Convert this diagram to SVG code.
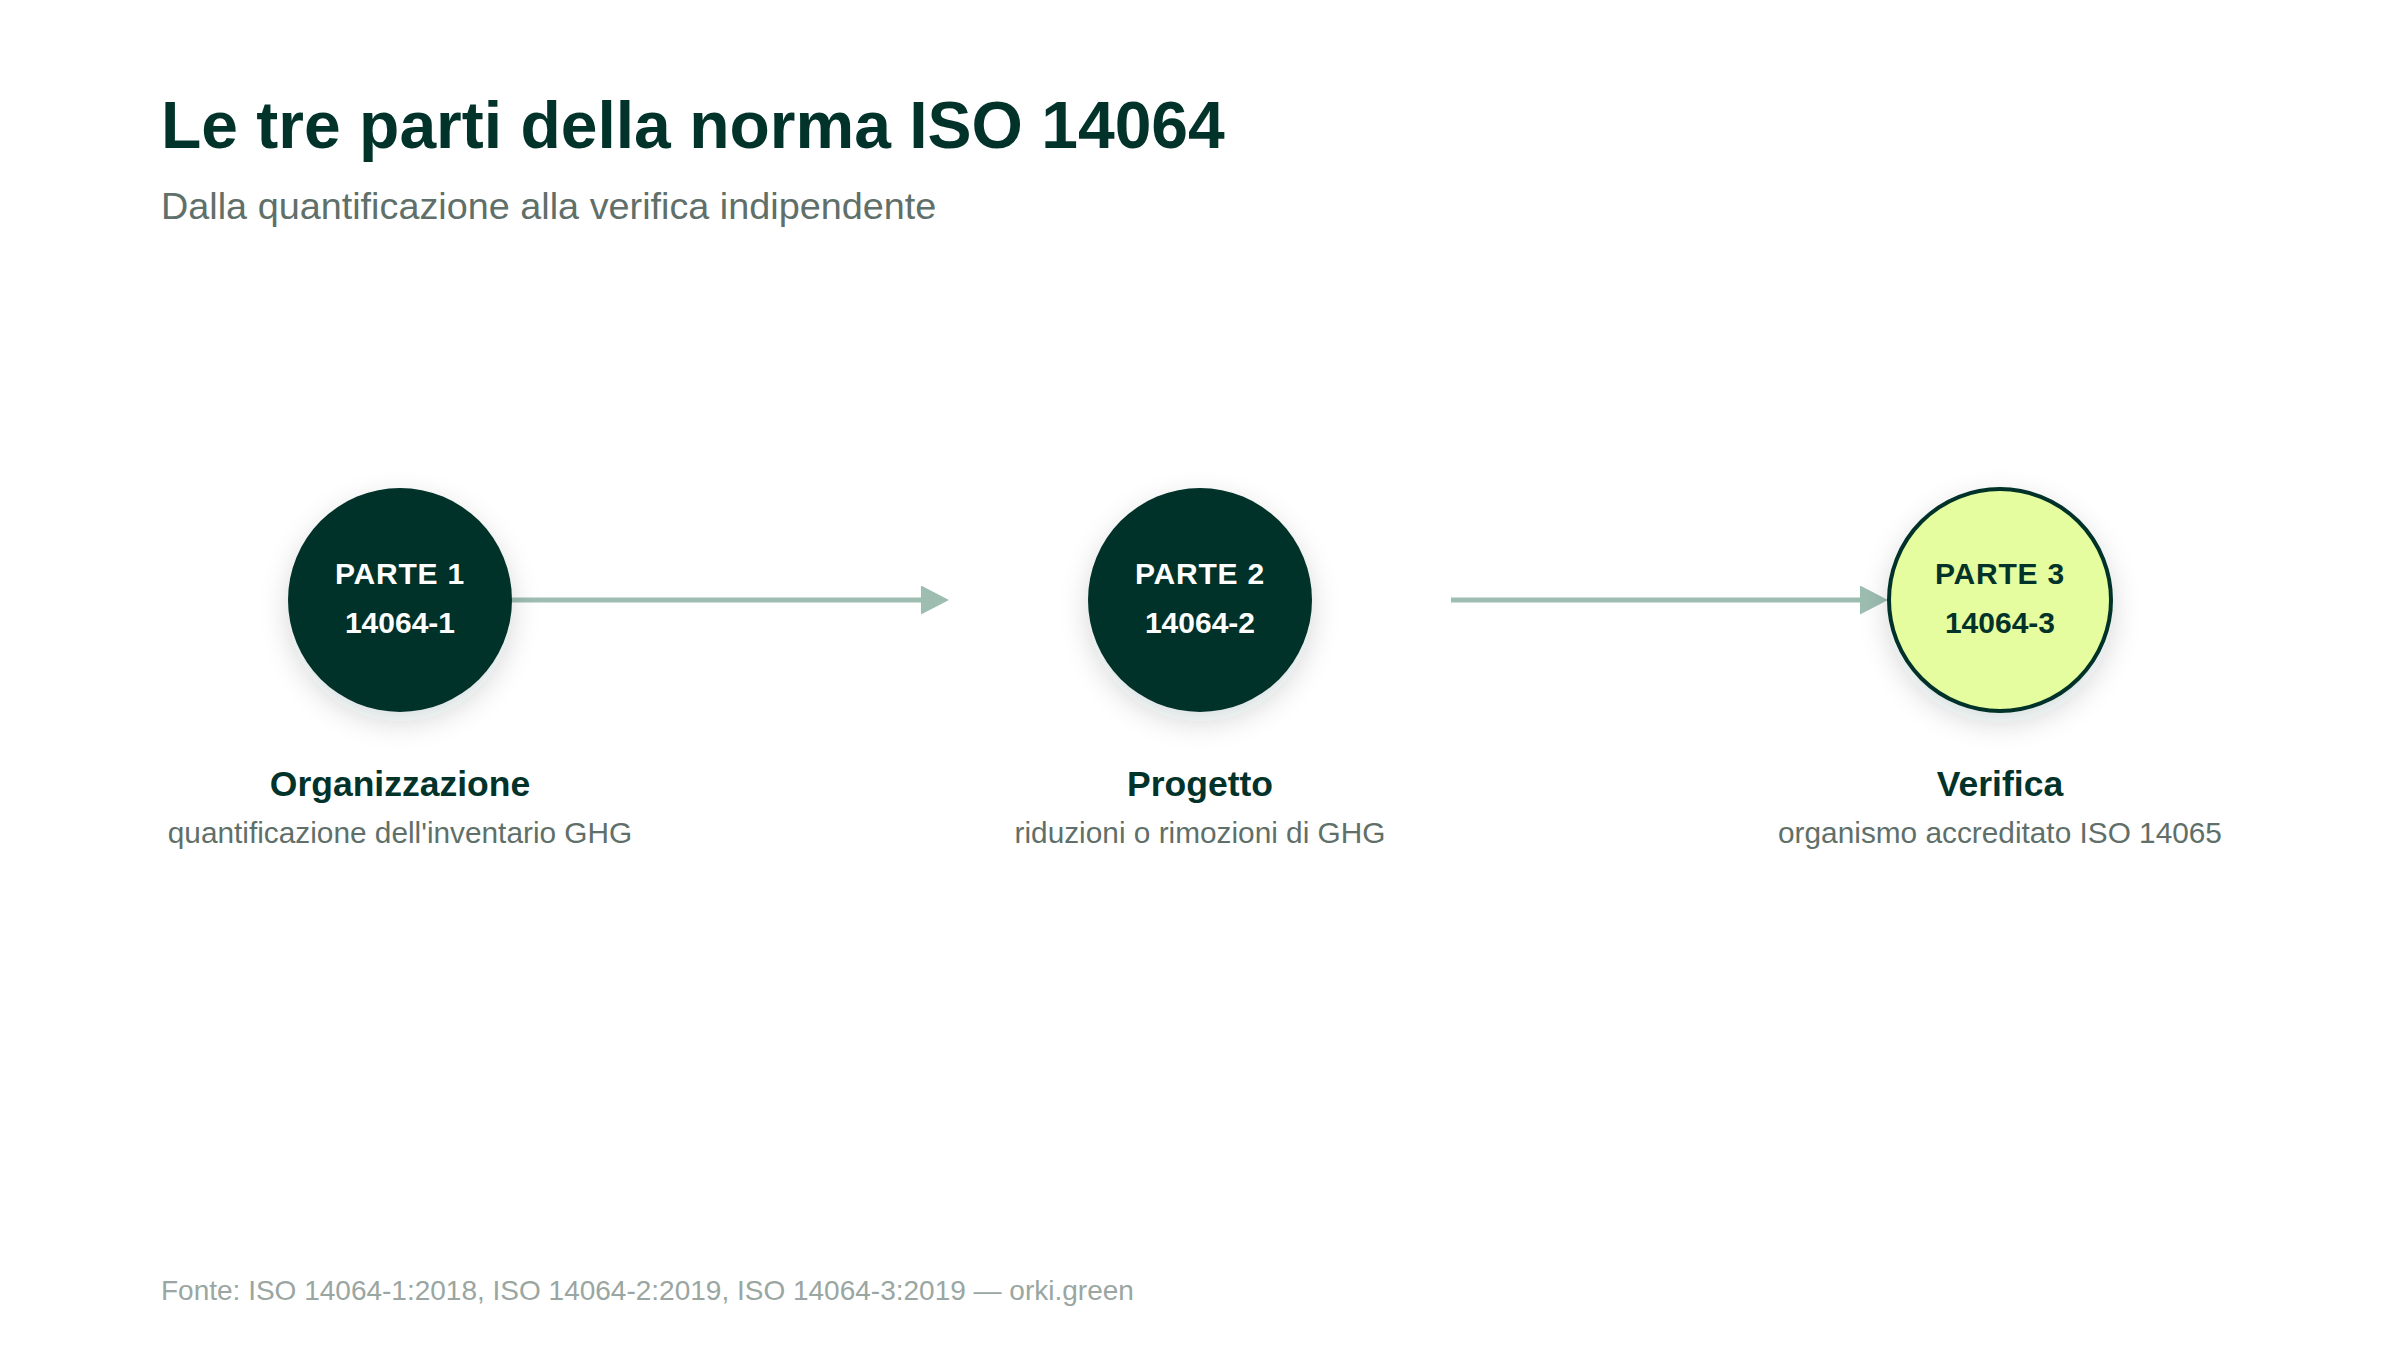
<svg xmlns="http://www.w3.org/2000/svg" width="2400" height="1350" viewBox="0 0 2400 1350">
  <style>
    .t { font-family: "Liberation Sans", Arial, sans-serif; }
    .title { font-size: 66px; font-weight: 700; fill: #02332a; }
    .subtitle { font-size: 37.8px; fill: #5f6f69; }
    .part { font-size: 30px; font-weight: 700; text-anchor: middle; letter-spacing: 0.8px; }
    .code { font-size: 30px; font-weight: 700; text-anchor: middle; }
    .light { fill: #ffffff; }
    .dark { fill: #02332a; }
    .label { font-size: 35.5px; font-weight: 700; fill: #02332a; text-anchor: middle; }
    .desc { font-size: 29.8px; fill: #5f6f69; text-anchor: middle; }
    .footer { font-size: 28px; fill: #9aa6a1; }
    .conn { stroke: #9dbdb1; stroke-width: 5; fill: none; }
    .disc { fill: #02332a; }
    .disc-hl { fill: #e6fd9f; stroke: #02332a; stroke-width: 4; }
  </style>
  <defs>
    <filter id="shadow" x="-50%" y="-50%" width="200%" height="200%">
      <feDropShadow dx="0" dy="10" stdDeviation="14" flood-color="#02332a" flood-opacity="0.16"/>
    </filter>
    <marker id="arrow" markerUnits="userSpaceOnUse" markerWidth="29" markerHeight="30" refX="0" refY="14.5" orient="auto">
      <path d="M0,0 L28,14.5 L0,29 Z" fill="#9dbdb1"/>
    </marker>
  </defs>
  <rect width="2400" height="1350" fill="#ffffff"/>

  <g id="header">
    <text class="t title" x="161" y="148">Le tre parti della norma ISO 14064</text>
    <text class="t subtitle" x="161" y="219">Dalla quantificazione alla verifica indipendente</text>
  </g>

  <g id="connectors">
    <line class="conn" x1="512" y1="600" x2="921" y2="600" marker-end="url(#arrow)"/>
    <line class="conn" x1="1451" y1="600" x2="1860" y2="600" marker-end="url(#arrow)"/>
  </g>

  <g id="node-1">
    <circle class="disc" cx="400" cy="600" r="112" filter="url(#shadow)"/>
    <text class="t part light" x="400" y="584">PARTE 1</text>
    <text class="t code light" x="400" y="633">14064-1</text>
    <text class="t label" x="400" y="796">Organizzazione</text>
    <text class="t desc" x="400" y="843">quantificazione dell'inventario GHG</text>
  </g>

  <g id="node-2">
    <circle class="disc" cx="1200" cy="600" r="112" filter="url(#shadow)"/>
    <text class="t part light" x="1200" y="584">PARTE 2</text>
    <text class="t code light" x="1200" y="633">14064-2</text>
    <text class="t label" x="1200" y="796">Progetto</text>
    <text class="t desc" x="1200" y="843">riduzioni o rimozioni di GHG</text>
  </g>

  <g id="node-3">
    <circle class="disc-hl" cx="2000" cy="600" r="111" filter="url(#shadow)"/>
    <text class="t part dark" x="2000" y="584">PARTE 3</text>
    <text class="t code dark" x="2000" y="633">14064-3</text>
    <text class="t label" x="2000" y="796">Verifica</text>
    <text class="t desc" x="2000" y="843">organismo accreditato ISO 14065</text>
  </g>

  <g id="footer">
    <text class="t footer" x="161" y="1300">Fonte: ISO 14064-1:2018, ISO 14064-2:2019, ISO 14064-3:2019 — orki.green</text>
  </g>
</svg>
